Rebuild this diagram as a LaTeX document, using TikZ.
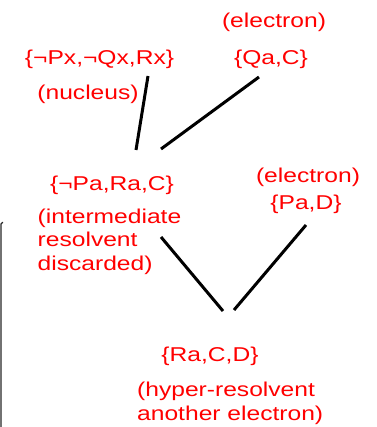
\documentclass[tikz,border=0pt]{standalone}
\usepackage{fontspec}
\newfontfamily\labfont{Liberation Sans}[FakeStretch=1.23]
\begin{document}
\begin{tikzpicture}[x=1pt,y=-1pt,
  lab/.style={text=red, font=\labfont\fontsize{20}{23.5}\selectfont, inner sep=0pt, align=left},
  link/.style={line width=3pt, black}]
\useasboundingbox (0,0) rectangle (376,427);
% texts
\node[lab, anchor=base] (nucleus) at (99.5,65) {\{¬Px,¬Qx,Rx\}};
\node[lab, anchor=base] (nuclab) at (88,100) {(nucleus)};
\node[lab, anchor=base] (e1lab) at (274,28) {(electron)};
\node[lab, anchor=base] (e1) at (271,65) {\{Qa,C\}};
\node[lab, anchor=base] (inter) at (112,191) {\{¬Pa,Ra,C\}};
\node[lab, anchor=base west] (interlab) at (37.5,270) {(intermediate\\resolvent\\discarded)};
\node[lab, anchor=base] (e2lab) at (308,183) {(electron)};
\node[lab, anchor=base] (e2) at (306,210) {\{Pa,D\}};
\node[lab, anchor=base] (hyper) at (210,361) {\{Ra,C,D\}};
\node[lab, anchor=base west] (hyperlab) at (137,420) {(hyper-resolvent\\another electron)};
% connector end points
\coordinate (n1) at (148,76);
\coordinate (i1) at (136,150);
\coordinate (q1) at (259,77);
\coordinate (i2) at (161,149);
\coordinate (i3) at (161,237);
\coordinate (h1) at (223,311);
\coordinate (p1) at (306,225);
\coordinate (h2) at (234,310);
\draw[link] (n1) -- (i1);
\draw[link] (q1) -- (i2);
\draw[link] (i3) -- (h1);
\draw[link] (p1) -- (h2);
% cropped frame edge at left
\coordinate (f1) at (3,222.5);
\coordinate (f2) at (1,427);
\draw[line width=1.2pt, black!85, rounded corners=1.5pt] (f1) -| (f2);
\end{tikzpicture}
\end{document}
